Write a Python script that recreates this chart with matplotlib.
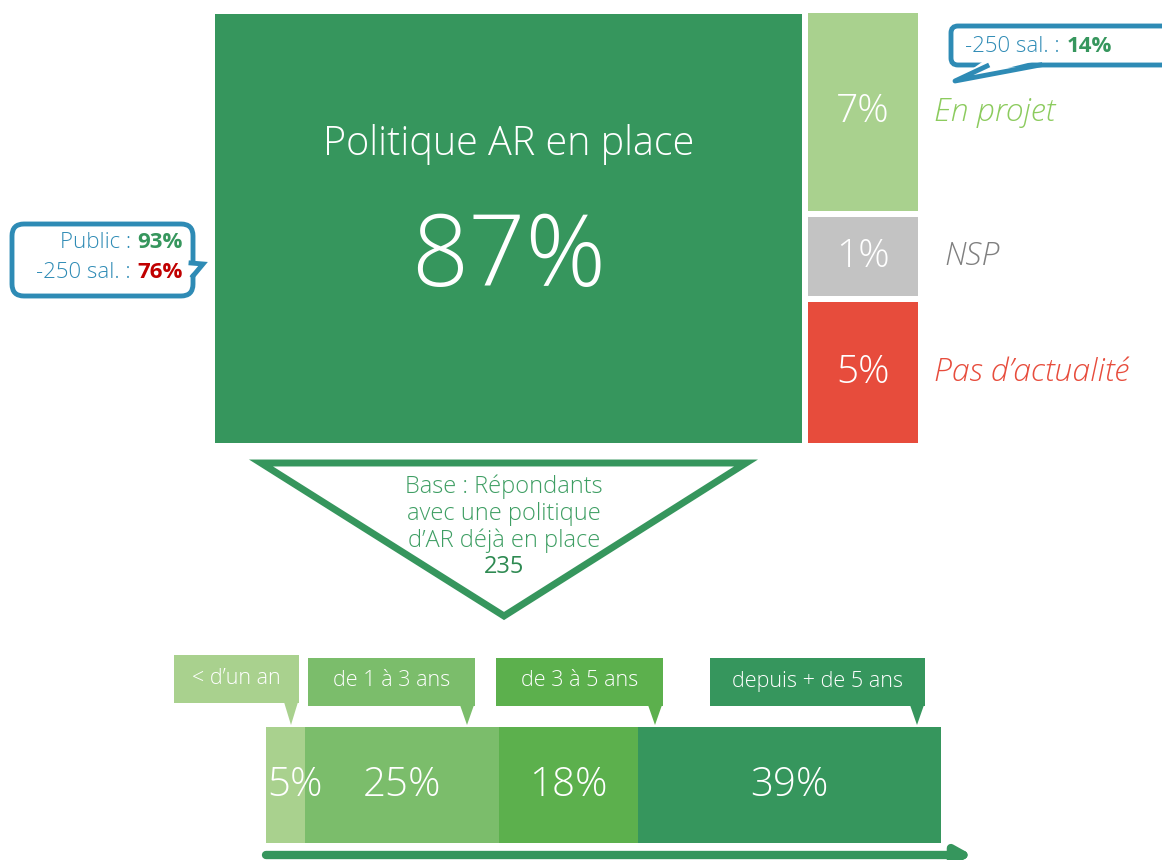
import numpy as np
import matplotlib.pyplot as plt
from matplotlib.patches import FancyBboxPatch, Polygon, Rectangle

W, H = 1162, 860

# data
top_labels = ["Politique AR en place", "En projet", "NSP", "Pas d\u2019actualité"]
top_values = [87, 7, 1, 5]
top_colors = ["#36965D", "#A9D18E", "#C3C3C3", "#E74C3C"]
label_colors = [None, "#8CCB5E", "#7F7F7F", "#E74C3C"]

bottom_labels = ["< d\u2019un an", "de 1 à 3 ans", "de 3 à 5 ans", "depuis + de 5 ans"]
bottom_values = [5, 25, 18, 39]
bottom_colors = ["#A9D18E", "#7BBD6B", "#5CB04D", "#36965D"]

public_share = 93
small_share = 76
small_projet_share = 14
base_n = 235

BLUE = "#2E8BB5"
GREEN = "#36965D"
RED = "#C00000"
FONT = "Open Sans"

fig = plt.figure(figsize=(W / 100, H / 100), dpi=100)


def px_axes(x0, y0, x1, y1):
    a = fig.add_axes([x0 / W, 1 - y1 / H, (x1 - x0) / W, (y1 - y0) / H])
    a.set_axis_off()
    return a


# overlay axes in pixel coordinates for shapes
ov = fig.add_axes([0, 0, 1, 1], zorder=5)
ov.set_xlim(0, W)
ov.set_ylim(H, 0)
ov.set_axis_off()
ov.patch.set_alpha(0)

# ---- main block ----
ax_main = px_axes(215, 14, 802, 443)
ax_main.bar([0], [top_values[0]], width=1, color=top_colors[0])
ax_main.set_xlim(-0.5, 0.5)
ax_main.set_ylim(0, top_values[0])
ax_main.text(0, top_values[0] * 0.695, top_labels[0], ha="center", va="center",
             color="white", fontsize=28.5, family=FONT, fontweight="light")
ax_main.text(0, top_values[0] * 0.426, f"{top_values[0]}%", ha="center", va="center",
             color="white", fontsize=72, family=FONT, fontweight="light")

# ---- side stacked column ----
ax_side = px_axes(808, 13, 918, 443)
side_vals = np.array(top_values[1:], dtype=float)
side_h = np.maximum(side_vals, 2.8)  # small shares get a minimum visible height
gap = 0.2
y = side_h.sum() + gap * (len(side_h) - 1)
ax_side.set_ylim(0, y)
ax_side.set_xlim(-0.5, 0.5)
for v, h, c, lc, lab in zip(side_vals, side_h, top_colors[1:], label_colors[1:], top_labels[1:]):
    ax_side.bar([0], [h], bottom=y - h, width=1, color=c)
    ax_side.text(0, y - h / 2, f"{int(v)}%", ha="center", va="center", color="white",
                 fontsize=28, family=FONT, fontweight="light")
    ax_side.text(0.65 if v != 1 else 0.74, y - h / 2, lab, ha="left", va="center",
                 color=lc, fontsize=23, family=FONT, style="italic", fontweight="light",
                 clip_on=False)
    y -= h + gap

# ---- left callout ----
ov.add_patch(FancyBboxPatch((12, 224), 181, 72, boxstyle="round,pad=0,rounding_size=12",
                            fc="white", ec=BLUE, lw=3.5, zorder=2))
ov.add_patch(Polygon([(189, 262), (203, 264), (189, 276)], closed=True, fc="white", ec="none", zorder=3))
ov.plot([191, 203, 193], [263, 264, 276], color=BLUE, lw=3.5, zorder=4, solid_joinstyle="miter")

renderer = fig.canvas.get_renderer()


def two_part_right(x, y, label, val, vcolor, size=16):
    t = ov.text(x, y, val, ha="right", va="center", color=vcolor, fontsize=size,
                family=FONT, fontweight="bold", zorder=6)
    bb = t.get_window_extent(renderer)
    x0 = ov.transData.inverted().transform((bb.x0, 0))[0]
    ov.text(x0 - 1, y, label, ha="right", va="center", color=BLUE, fontsize=size,
            family=FONT, fontweight="light", zorder=6)


def two_part_left(x, y, label, val, vcolor, size=16):
    t = ov.text(x, y, label, ha="left", va="center", color=BLUE, fontsize=size,
                family=FONT, fontweight="light", zorder=6)
    bb = t.get_window_extent(renderer)
    x1 = ov.transData.inverted().transform((bb.x1, 0))[0]
    ov.text(x1 + 1, y, val, ha="left", va="center", color=vcolor, fontsize=size,
            family=FONT, fontweight="bold", zorder=6)


two_part_right(183, 243, "Public : ", f"{public_share}%", GREEN)
two_part_right(183, 273, "-250 sal. : ", f"{small_share}%", RED)

# ---- right callout ----
ov.add_patch(FancyBboxPatch((951, 26), 225, 39, boxstyle="round,pad=0,rounding_size=7",
                            fc="white", ec=BLUE, lw=3.5, zorder=2))
ov.add_patch(Polygon([(985, 60), (1040, 60), (955, 81)], closed=True, fc="white", ec="none", zorder=3))
ov.plot([987, 955, 1040], [66, 81, 65], color=BLUE, lw=3.5, zorder=4)
two_part_left(965, 46, "-250 sal. : ", f"{small_projet_share}%", GREEN)

# ---- base triangle ----
ov.add_patch(Polygon([(261, 463), (746, 463), (504, 616)], closed=True, fc="white",
                     ec=GREEN, lw=5, joinstyle="miter"))
base_lines = ["Base : Répondants", "avec une politique", "d\u2019AR déjà en place"]
for i, line in enumerate(base_lines):
    ov.text(504, 487 + 27 * i, line, ha="center", va="center", color="#3E9E63",
            fontsize=17, family=FONT, fontweight="light", zorder=6)
ov.text(504, 567, str(base_n), ha="center", va="center", color="#2E8A52",
        fontsize=17, family=FONT, zorder=6)

# ---- bottom stacked bar ----
ax_bot = px_axes(266, 727, 941, 843)
left = 0
starts = []
for v, c in zip(bottom_values, bottom_colors):
    ax_bot.barh([0], [v], left=left, height=1, color=c)
    starts.append(left)
    left += v
ax_bot.set_xlim(0, sum(bottom_values))
ax_bot.set_ylim(-0.5, 0.5)
for v, s in zip(bottom_values, starts):
    if v < 8:
        # narrow segment: label starts at its left edge and runs over
        ax_bot.text(s + 0.2, 0, f"{v}%", ha="left", va="center", color="white",
                    fontsize=29, family=FONT, fontweight="light", clip_on=False)
    else:
        ax_bot.text(s + v / 2, 0, f"{v}%", ha="center", va="center", color="white",
                    fontsize=29, family=FONT, fontweight="light", clip_on=False)

# ---- bottom callout labels ----
boxes = [(174, 655, 299, 703), (308, 658, 475, 706), (496, 658, 663, 706), (710, 658, 925, 706)]
for (x0, y0, x1, y1), lab, c in zip(boxes, bottom_labels, bottom_colors):
    tip = x1 - 8
    ov.add_patch(Rectangle((x0, y0), x1 - x0, y1 - y0, fc=c, ec="none"))
    ov.add_patch(Polygon([(tip - 7, y1 - 1), (tip + 7, y1 - 1), (tip, 725)], closed=True, fc=c, ec="none"))
    ov.text((x0 + x1) / 2, (y0 + y1) / 2 - 1, lab, ha="center", va="center", color="white",
            fontsize=15.5, family=FONT, fontweight="light")

# ---- time arrow ----
ov.annotate("", xy=(972, 855), xytext=(266, 855),
            arrowprops=dict(arrowstyle="-|>,head_length=0.9,head_width=0.5", color=GREEN,
                            lw=6, shrinkA=0, shrinkB=0))

fig.savefig("out.png", dpi=100)
